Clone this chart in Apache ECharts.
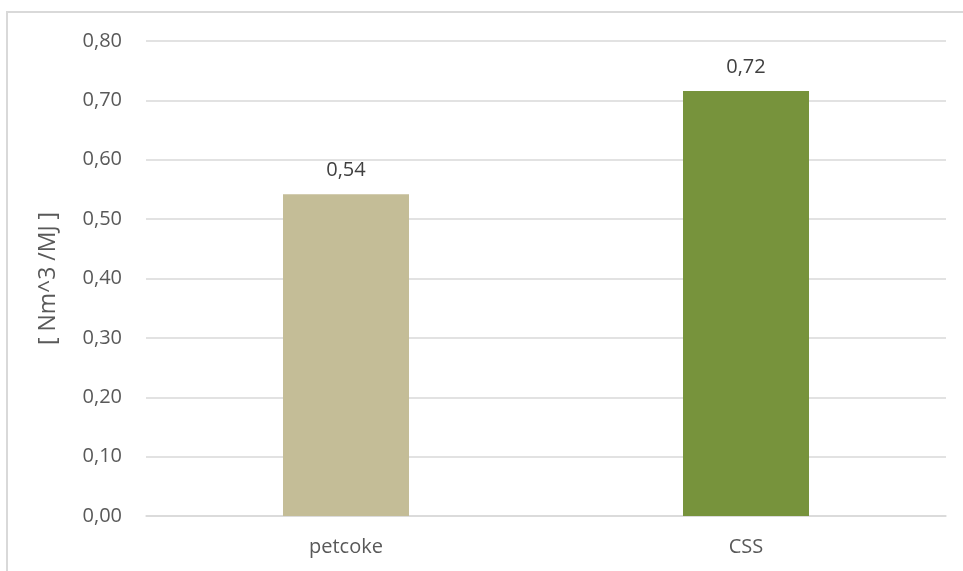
<!DOCTYPE html>
<html>
<head>
<meta charset="utf-8">
<script src="https://cdn.jsdelivr.net/npm/echarts@6/dist/echarts.min.js"></script>
<style>
  html, body { margin: 0; padding: 0; background: #fff; }
  #frame { position: absolute; left: 6px; top: 11px; width: 980px; height: 600px; border: 2px solid #d9d9d9; box-sizing: border-box; }
  #chart { position: absolute; left: 0; top: 0; width: 963px; height: 571px; }
</style>
</head>
<body>
<div id="frame"></div>
<div id="chart"></div>
<script>
const categories = ['petcoke', 'CSS'];
const values = [0.542, 0.716];
const barColors = ['#c4bd97', '#77933c'];
const axisName = '[ Nm^3 /MJ ]';

const fmt = v => v.toFixed(2).replace('.', ',');
const font = '"Open Sans", "Liberation Sans", sans-serif';

const chart = echarts.init(document.getElementById('chart'));
chart.setOption({
  animation: false,
  grid: { left: 146, right: 17, top: 41, bottom: 55 },
  xAxis: {
    type: 'category',
    data: categories,
    axisLine: { lineStyle: { color: '#d9d9d9', width: 1.5 } },
    axisTick: { show: false },
    axisLabel: { color: '#595959', fontSize: 20, fontFamily: font, margin: 21 }
  },
  yAxis: {
    type: 'value',
    min: 0, max: 0.8, interval: 0.1,
    name: axisName,
    nameLocation: 'middle',
    nameGap: 86,
    nameTextStyle: { color: '#595959', fontSize: 23, fontFamily: font },
    axisLine: { show: false },
    axisTick: { show: false },
    splitLine: { lineStyle: { color: '#d9d9d9', width: 1.5 } },
    axisLabel: { color: '#595959', fontSize: 20, fontFamily: font, margin: 24, formatter: fmt }
  },
  series: [{
    type: 'bar',
    barWidth: 126,
    data: values.map((v, i) => ({ value: v, itemStyle: { color: barColors[i] } })),
    label: {
      show: true, position: 'top', distance: 14,
      color: '#404040', fontSize: 20, fontFamily: font,
      formatter: p => fmt(p.value)
    }
  }]
});
</script>
</body>
</html>
